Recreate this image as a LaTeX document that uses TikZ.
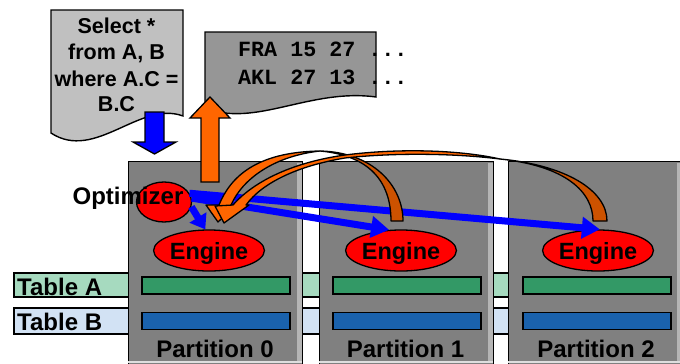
\documentclass[tikz,border=0pt]{standalone}
\usepackage{fontspec}
\setmainfont{Liberation Sans}
\setmonofont{Liberation Mono}
\usetikzlibrary{arrows.meta,shapes.geometric,calc}
\definecolor{partgray}{HTML}{808080}
\definecolor{stripgray}{HTML}{C8C8C8}
\definecolor{docl}{HTML}{C0C0C0}
\definecolor{docd}{HTML}{969696}
\definecolor{tblA}{HTML}{A6DABF}
\definecolor{tblB}{HTML}{D2E2F4}
\definecolor{bargreen}{HTML}{339966}
\definecolor{barblue}{HTML}{1A62AD}
\definecolor{orbright}{HTML}{FF6600}
\definecolor{ordark}{HTML}{CC5200}
\begin{document}
\begin{tikzpicture}[x=1pt,y=-1pt,
  outl/.style={draw=black,line width=1.4pt,line join=miter},
  docshape/.style={outl},
  tblstripe/.style={outl},
  partbox/.style={rectangle,fill=partgray,draw=black,line width=1.4pt,anchor=north west,inner sep=0pt,minimum width=174pt,minimum height=215pt},
  stripbox/.style={fill=stripgray,fill opacity=0.75},
  barbox/.style={rectangle,draw=black,line width=1.6pt,anchor=north west,inner sep=0pt,minimum width=148pt,minimum height=17pt},
  gbar/.style={barbox,fill=bargreen},
  bbar/.style={barbox,fill=barblue},
  redell/.style={ellipse,fill=red,draw=black,line width=1.3pt,inner sep=0pt},
  engine/.style={redell,minimum width=92pt,minimum height=41pt,font=\fontsize{23.5}{28}\selectfont\bfseries,text depth=0pt},
  biglbl/.style={font=\fontsize{24}{28}\selectfont\bfseries,inner sep=0pt},
  seltxt/.style={font=\fontsize{21.5}{26}\selectfont\bfseries,inner sep=0pt,anchor=base},
  restxt/.style={font=\fontsize{21.7}{26}\selectfont\ttfamily\bfseries,inner sep=0pt,anchor=base west},
  bluearr/.style={draw=blue,line width=7pt,-{Triangle[length=18pt,width=21pt]}},
  blockarr/.style={outl,line width=1.3pt},
  orr/.style={fill=orbright,draw=black,line width=1.3pt,line join=round},
  ord/.style={fill=ordark,draw=black,line width=1.3pt,line join=round}
]
\useasboundingbox (0,0) rectangle (680,364);
\fill[white] (0,0) rectangle (680,364);

% documents
\filldraw[docshape,fill=docl] (51,10) -- (183,10) -- (183,116) .. controls (140,100) and (95,162) .. (51,133) -- cycle;
\filldraw[docshape,fill=docd] (205,32) -- (376,32) -- (376,97) .. controls (310,88) and (255,128) .. (205,108) -- cycle;
\node[seltxt] (s1) at (116.5,33) {Select *};
\node[seltxt] (s2) at (116.5,59) {from A, B};
\node[seltxt] (s3) at (116.5,86) {where A.C =};
\node[seltxt] (s4) at (116.5,111) {B.C};
\node[restxt] (r1) at (238,56) {FRA 15 27 ...};
\node[restxt] (r2) at (238,84) {AKL 27 13 ...};

% table stripes
\filldraw[tblstripe,fill=tblA] (14,273) rectangle (700,297);
\filldraw[tblstripe,fill=tblB] (14,308) rectangle (700,334);

% partitions
\node[partbox] (p0) at (128,161) {};
\node[partbox] (p1) at (319,161) {};
\node[partbox] (p2) at (508,161) {};
\fill[stripbox] (297,163) rectangle (301.5,362);
\fill[stripbox] (488,163) rectangle (492.5,362);
\fill[stripbox] (677,163) rectangle (681.5,362);
\draw[draw=stripgray!60,line width=1.5pt] (128,362) -- (302,362) (319,362) -- (493,362) (508,362) -- (682,362);

% bars
\node[gbar] (ga0) at (141,276) {};
\node[gbar] (ga1) at (332,276) {};
\node[gbar] (ga2) at (522,276) {};
\node[bbar] (gb0) at (141,311.5) {};
\node[bbar] (gb1) at (332,311.5) {};
\node[bbar] (gb2) at (522,311.5) {};

% labels
\node[biglbl,anchor=base west] (ta) at (17,295) {Table A};
\node[biglbl,anchor=base west] (tb) at (17,330) {Table B};
\node[biglbl,anchor=base] (l0) at (215,357) {Partition 0};
\node[biglbl,anchor=base] (l1) at (405.5,357) {Partition 1};
\node[biglbl,anchor=base] (l2) at (596,357) {Partition 2};

% ellipses
\node[redell,minimum width=55pt,minimum height=40pt] (opt) at (164,202) {};
\node[biglbl,anchor=base] (optl) at (128,204) {Optimizer};
\node[engine] (e0) at (209,250.5) {Engine};
\node[engine] (e1) at (401,250.5) {Engine};
\node[engine] (e2) at (598,250.5) {Engine};

% block arrows
\filldraw[blockarr,fill=blue] (145,112) -- (164,112) -- (164,142) -- (176,142) -- (154.5,154) -- (133,142) -- (145,142) -- cycle;
\filldraw[blockarr,fill=orbright] (201,182) -- (219,182) -- (219,118) -- (230,118) -- (210,97) -- (190,118) -- (201,118) -- cycle;

% blue arrows
\draw[bluearr] (opt.19) -- (e2.85);
\draw[bluearr] (opt.8) -- (e1.120);
\draw[draw=blue,line width=7pt,-{Triangle[length=14pt,width=19pt]}] (opt.-10) -- (e0.100);

% orange curved arrow A (partition 1)
\filldraw[ord] (320,151) .. controls (372,152) and (403,185) .. (403,221) -- (391,221) .. controls (391,186) and (374,156) .. (320,151) -- cycle;
\filldraw[orr] (320,151) .. controls (255,152) and (230,178) .. (219,205) -- (206,205) -- (218,222) -- (236,205) -- (231,205) .. controls (243,178) and (275,156) .. (320,151) -- cycle;
% orange curved arrow B (partition 2)
\filldraw[ord] (500,159) .. controls (565,165) and (607,190) .. (607,221) -- (593,221) .. controls (593,192) and (566,166) .. (500,159) -- cycle;
\filldraw[orr] (500,159) .. controls (460,150) and (400,148) .. (345,155) .. controls (295,162) and (255,180) .. (233,205) -- (215,206) -- (224,223) -- (249,205) -- (246,205) .. controls (262,183) and (297,166) .. (345,158) .. controls (400,152) and (460,154) .. (500,159) -- cycle;
\end{tikzpicture}
\end{document}
